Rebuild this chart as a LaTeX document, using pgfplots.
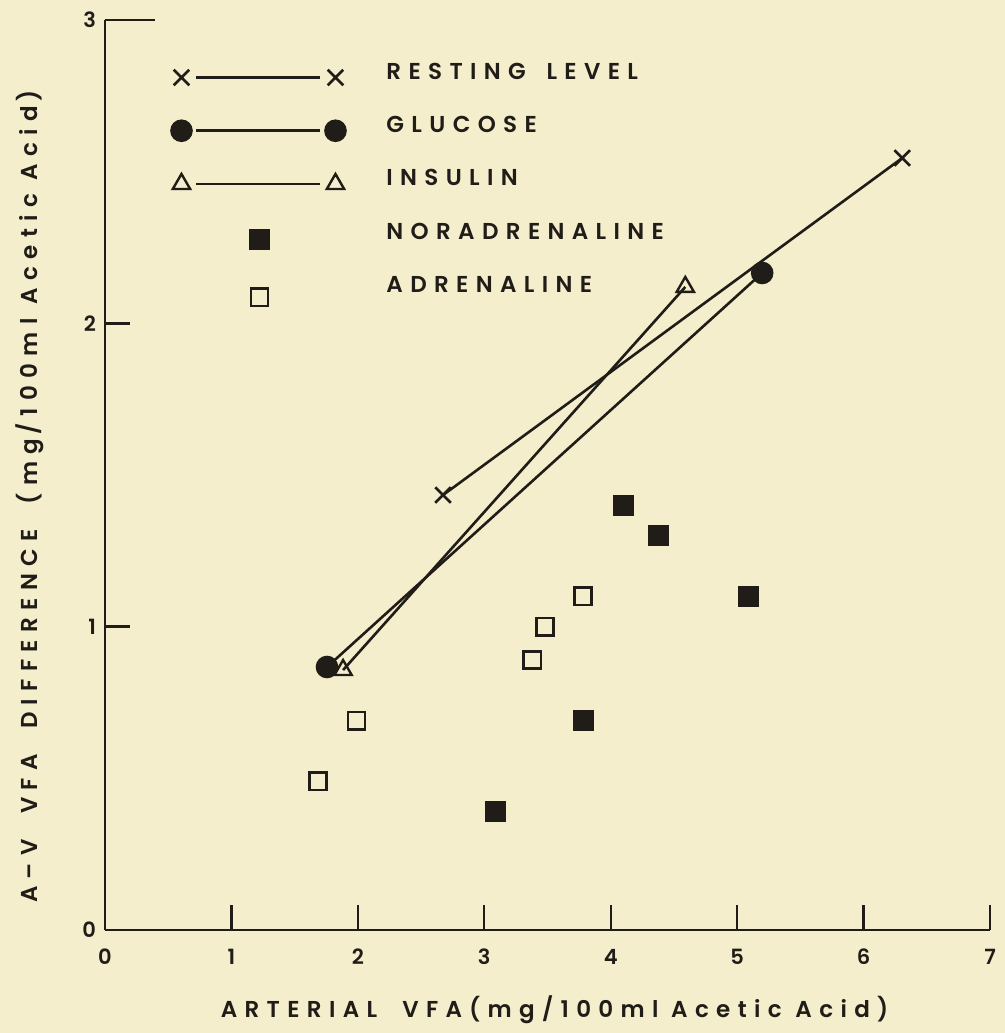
\documentclass[border=0pt]{standalone}
\usepackage{fontspec}
\setmainfont{Poppins}[UprightFont=* SemiBold, LetterSpace=32]
\usepackage{pgfplots}
\pgfplotsset{compat=1.18}

\definecolor{paper}{RGB}{244,238,204}
\definecolor{ink}{RGB}{32,28,24}

\newcommand{\gap}[1][1em]{\hspace{#1}}

% legend glyphs: marker, line, marker
\pgfplotsset{
  pairleg/.style={legend image code/.code={
      \path[draw=none, fill=none] (-6pt,-9pt) rectangle (83pt,9pt);
      \draw[mark=none, line width=1.3pt] (7.5pt,1pt) -- (69.5pt,1pt);
      \draw[only marks] plot coordinates {(0pt,1pt) (77pt,1pt)};
  }},
  dotleg/.style={legend image code/.code={
      \path[draw=none, fill=none] (-6pt,-9pt) rectangle (83pt,9pt);
      \draw[only marks] plot coordinates {(39pt,#1)};
  }},
}

\begin{document}
\begin{tikzpicture}
\fill[paper, use as bounding box] (-52.5pt,-51.5pt) rectangle (450pt,465pt);
\begin{axis}[
  at={(0,0)}, anchor=south west,
  scale only axis, width=442.5pt, height=455pt,
  xmin=0, xmax=7, ymin=0, ymax=3,
  axis x line=bottom, axis y line=left,
  axis line style={-, ink, line width=1.4pt},
  xtick={0,...,7}, ytick={0,1,2},
  extra y ticks={3},
  extra y tick style={major tick length=25pt},
  tick align=inside, major tick length=12.5pt,
  tick style={ink, line width=1.2pt},
  /pgf/number format/assume math mode=true,
  tick label style={font=\fontsize{10.5}{11}\selectfont, text=ink},
  xticklabel style={yshift=-6pt},
  yticklabel style={xshift=-1pt},
  xlabel={ARTERIAL\gap[1.1em]VFA\gap[0.3em](mg/100ml\gap[0.55em]Acetic\gap[0.6em]Acid)},
  ylabel={A–V\gap[1.1em]VFA\gap[1.1em]DIFFERENCE\gap[1.1em](mg\,/100ml\gap[0.6em]Acetic\gap[0.6em]Acid\,)},
  label style={font=\fontsize{11.5}{13}\selectfont, text=ink},
  xlabel style={at={(axis description cs:0.508,-0.088)}, anchor=center},
  ylabel style={at={(axis description cs:-0.085,0.476)}, anchor=center},
  legend cell align=left,
  legend style={draw=none, fill=none, at={(axis cs:0.51,2.863)}, anchor=north west,
    inner sep=0pt, outer sep=0pt, row sep=8.6pt, column sep=19.5pt,
    font=\fontsize{11.5}{13}\selectfont, text=ink,
    cells={anchor=base west},
    nodes={inner sep=0pt, text height=8pt, text depth=0pt}},
  clip=false,
]
% resting level
\addplot[ink, line width=1.3pt, mark=x, mark size=5.5pt, mark options={line width=1.3pt}, pairleg]
  coordinates {(2.674,1.434) (6.306,2.545)};
\addlegendentry{RESTING\gap[0.9em]LEVEL}
% glucose
\addplot[ink, line width=1.3pt, mark=*, mark size=5pt, mark options={fill=ink}, pairleg]
  coordinates {(1.756,0.867) (5.198,2.166)};
\addlegendentry{GLUCOSE}
% insulin
\addplot[ink, line width=1.3pt, mark=triangle, mark size=5pt, mark options={line width=1.2pt, fill=paper}, pairleg]
  coordinates {(1.883,0.857) (4.59,2.12)};
\addlegendentry{INSULIN}
% noradrenaline
\addplot[only marks, mark=square*, mark size=5pt, mark options={ink, fill=ink}, dotleg=0pt]
  coordinates {(3.09,0.39) (3.78,0.69) (4.10,1.40) (4.38,1.30) (5.09,1.10)};
\addlegendentry{NORADRENALINE}
% adrenaline
\addplot[only marks, mark=square, mark size=4.3pt, mark options={ink, line width=1.3pt, fill=paper}, dotleg=-2.5pt]
  coordinates {(1.685,0.49) (1.99,0.69) (3.38,0.89) (3.48,1.00) (3.78,1.10)};
\addlegendentry{ADRENALINE}
\end{axis}
\end{tikzpicture}
\end{document}
